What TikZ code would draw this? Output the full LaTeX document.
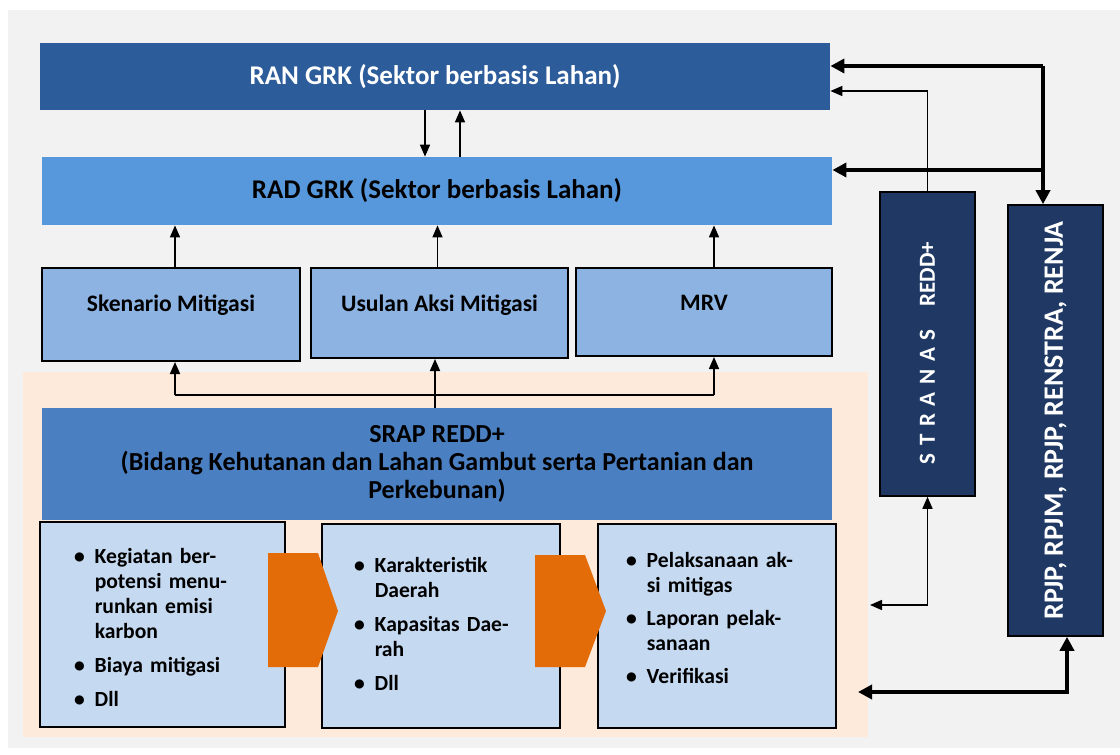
\documentclass[tikz,border=0pt]{standalone}
\usepackage{fontspec}
\setmainfont{Carlito}
\usepackage{graphicx}
\usetikzlibrary{arrows.meta}
\definecolor{bggray}{HTML}{F2F2F2}
\definecolor{peach}{HTML}{FDEADA}
\definecolor{ranblue}{HTML}{2D5C9A}
\definecolor{radblue}{HTML}{5798DC}
\definecolor{midblue}{HTML}{8DB3E2}
\definecolor{srapblue}{HTML}{4A7FC1}
\definecolor{paleblue}{HTML}{C5D9F1}
\definecolor{navy}{HTML}{1F3864}
\definecolor{chev}{HTML}{E36C09}
\tikzset{
  band/.style={rectangle, inner sep=0pt, font=\bfseries\fontsize{13.5}{16}\selectfont, minimum width=395pt},
  midbox/.style={rectangle, draw=black, line width=1pt, fill=midblue, inner sep=0pt, font=\bfseries\fontsize{11.8}{14}\selectfont},
  listbox/.style={rectangle, draw=black, line width=1pt, fill=paleblue, inner ysep=0pt, align=left, font=\bfseries\fontsize{10.8}{12.5}\selectfont},
  darkbox/.style={rectangle, draw=black, line width=0.8pt, fill=navy, text=white, inner sep=0pt, font=\bfseries\fontsize{14}{16}\selectfont},
  thinarr/.style={draw=black, line width=0.8pt, -{Triangle[length=6pt,width=5pt]}},
  thickarr/.style={draw=black, line width=2pt, -{Triangle[length=7pt,width=7pt]}},
  chevron/.style={fill=chev, draw=none}
}
\newcommand{\shiftbox}[2]{\raisebox{#1}[\height][\depth]{#2}}
\begin{document}
\begin{tikzpicture}[x=0.5pt,y=-0.5pt]
\useasboundingbox (0,0) rectangle (1120,755);
\fill[bggray] (8,10) rectangle (1120,748);
\fill[peach] (23,372) rectangle (868,737);

% top bands
\node[band, fill=ranblue, text=white, minimum height=33.5pt] (ran) at (435,76.5) {RAN GRK (Sektor berbasis Lahan)};
\node[band, fill=radblue, text=black, minimum height=34pt] (rad) at (437,191) {RAD GRK (Sektor berbasis Lahan)};

% middle boxes
\node[midbox, minimum width=129pt, minimum height=46.5pt] (sken) at (171,314.5) {\shiftbox{4.5pt}{Skenario Mitigasi}};
\node[midbox, minimum width=128.5pt, minimum height=45pt] (usul) at (439.5,313) {\shiftbox{4pt}{Usulan Aksi Mitigasi}};
\node[midbox, minimum width=128pt, minimum height=44pt] (mrv) at (704,312) {\shiftbox{3.5pt}{MRV\vphantom{g}}};

% SRAP band
\node[band, fill=srapblue, text=black, minimum height=56pt, align=center, font=\bfseries\fontsize{13}{14}\selectfont] (srap) at (437,464)
  {SRAP REDD+\\(Bidang Kehutanan dan Lahan Gambut serta Pertanian dan\\Perkebunan)};

% list boxes
\node[listbox, inner xsep=17pt, text width=88.5pt, minimum height=102.5pt] (b1) at (162.5,624.5)
  {\shiftbox{-2.5pt}{\begin{tabular}{@{}l@{\hspace{5pt}}l@{}}
   \textbullet & Kegiatan ber-\\ & potensi menu-\\ & runkan emisi\\ & karbon\\[4.5pt]
   \textbullet & Biaya mitigasi\\[4.5pt]
   \textbullet & Dll
   \end{tabular}}};
\node[listbox, inner xsep=16pt, text width=87pt, minimum height=102pt] (b2) at (441,626)
  {\begin{tabular}{@{}l@{\hspace{5pt}}l@{}}
   \textbullet & Karakteristik\\ & Daerah\\[4.5pt]
   \textbullet & Kapasitas Dae-\\ & rah\\[4.5pt]
   \textbullet & Dll
   \end{tabular}};
\node[listbox, inner xsep=14pt, text width=91pt, minimum height=102pt] (b3) at (717,626)
  {\shiftbox{3pt}{\begin{tabular}{@{}l@{\hspace{5pt}}l@{}}
   \textbullet & Pelaksanaan ak-\\ & si mitigas\\[4pt]
   \textbullet & Laporan pelak-\\ & sanaan\\[4pt]
   \textbullet & Verifikasi
   \end{tabular}}};

% chevrons
\fill[chevron] (268,553) -- (318,553) -- (338,611) -- (318,667) -- (268,667) -- cycle;
\fill[chevron] (535,555) -- (585,555) -- (606,611) -- (585,667) -- (535,667) -- cycle;

% right dark boxes
\node[darkbox, minimum width=47.5pt, minimum height=152pt, font=\bfseries\fontsize{11.5}{13}\selectfont] (stranas) at (927.5,344) {\shiftbox{-4.5pt}{\rotatebox{90}{S\,\,T\,\,R\,\,A\,\,N\,\,A\,\,S\quad REDD+}}};
\node[darkbox, minimum width=47.5pt, minimum height=215.5pt] (rpjp) at (1055.5,420.5) {\rotatebox{90}{RPJP, RPJM, RPJP, RENSTRA, RENJA}};

% arrows between RAN and RAD
\draw[thinarr] ([xshift=-5pt]ran.south) -- ([xshift=-5pt]ran.south |- rad.north);
\draw[thinarr] ([xshift=12.5pt]ran.south |- rad.north) -- ([xshift=12.5pt]ran.south);

% arrows from middle boxes to RAD
\draw[thinarr] ([xshift=2pt]sken.north) -- ([xshift=2pt]sken.north |- rad.south);
\draw[thinarr] ([xshift=-1pt]usul.north) -- ([xshift=-1pt]usul.north |- rad.south);
\draw[thinarr] ([xshift=5pt]mrv.north) -- ([xshift=5pt]mrv.north |- rad.south);

% from SRAP to middle boxes
\coordinate (bl) at (175,395);
\coordinate (br) at (714,395);
\draw[draw=black, line width=0.8pt] (bl) -- (br);
\draw[thinarr] (bl) -- (bl |- sken.south);
\draw[thinarr] (br) -- (br |- mrv.south);
\draw[thinarr] ([xshift=-1pt]srap.north) -- ([xshift=-1pt]srap.north |- usul.south);

% right side connectors
\coordinate (tr) at (1043,66);
\coordinate (tm) at (1043,170);
\draw[thickarr] (tr) -- (tr -| ran.east);
\draw[thickarr] (tr) -- (tr |- rpjp.north);
\draw[thickarr] (tm) -- (tm -| rad.east);
\draw[thinarr] (stranas.north) |- ([yshift=-7.25pt]ran.east);
\coordinate (sb) at (870,605);
\draw[thinarr, {Triangle[length=6pt,width=5pt]}-{Triangle[length=6pt,width=5pt]}] (sb) -| (stranas.south);
\coordinate (rb) at (858,692);
\draw[thickarr, {Triangle[length=7pt,width=7pt]}-{Triangle[length=7pt,width=7pt]}] (rb) -| ([xshift=5.75pt]rpjp.south);
\end{tikzpicture}
\end{document}
